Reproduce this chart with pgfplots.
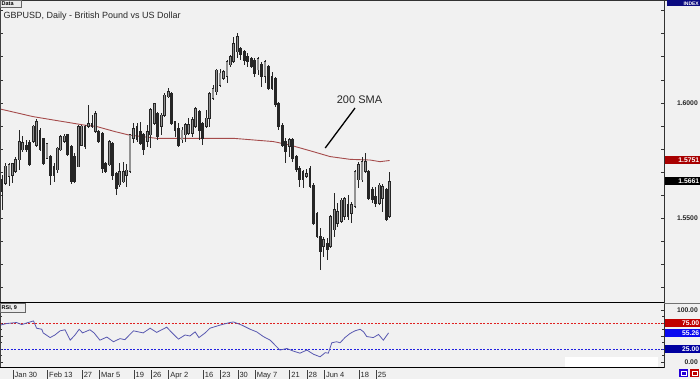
\documentclass[border=0pt]{standalone}
\usepackage{pgfplots}
\pgfplotsset{compat=1.18}
\usepackage{pgfplotstable}
\usepackage{fontspec}
\setmainfont{Liberation Sans}
\definecolor{bg}{HTML}{F1F1F1}
\definecolor{smacol}{HTML}{A54B4B}
\definecolor{rsicol}{HTML}{5858B0}
\definecolor{bodycol}{HTML}{929292}
\definecolor{edgecol}{HTML}{262626}
\definecolor{bred}{HTML}{A80000}
\definecolor{rred}{HTML}{C00000}
\definecolor{bblue}{HTML}{0A0AF0}
\definecolor{dblue}{HTML}{0000A0}
\definecolor{navyc}{HTML}{0A0A80}
\definecolor{redline}{HTML}{E02020}
\definecolor{blueline}{HTML}{2020E0}
\newcommand\tk[1]{{\color{black!75}\rule[-2.5pt]{0.7pt}{10pt}}\hspace{1.3pt}#1}
\tikzset{badge/.style={anchor=west, inner xsep=1pt, inner ysep=0pt, minimum height=8pt, text width=34pt, align=right, font=\fontsize{6.8}{7}\selectfont\bfseries, text=white}}

\pgfplotstableread{
i h bt bb l d
0 1.5688 1.5667 1.5616 1.5537 1
1 1.5739 1.5727 1.5652 1.5645 0
2 1.5739 1.5732 1.5681 1.5641 0
3 1.5739 1.5736 1.5688 1.5652 0
4 1.5768 1.5756 1.5703 1.5696 0
5 1.5883 1.5833 1.5753 1.5710 0
6 1.5857 1.5828 1.5797 1.5789 0
7 1.5840 1.5818 1.5797 1.5789 1
8 1.5840 1.5828 1.5732 1.5727 1
9 1.5905 1.5900 1.5833 1.5825 0
10 1.5929 1.5919 1.5818 1.5808 0
11 1.5890 1.5883 1.5799 1.5794 1
12 1.5847 1.5847 1.5736 1.5732 1
13 1.5825 1.5825 1.5760 1.5756 0
14 1.5775 1.5768 1.5688 1.5645 1
15 1.5739 1.5724 1.5688 1.5659 1
16 1.5808 1.5804 1.5710 1.5696 0
17 1.5862 1.5854 1.5797 1.5794 0
18 1.5866 1.5857 1.5833 1.5825 0
19 1.5866 1.5862 1.5775 1.5771 1
20 1.5818 1.5811 1.5659 1.5649 1
21 1.5782 1.5768 1.5659 1.5652 1
22 1.5905 1.5898 1.5724 1.5722 0
23 1.5905 1.5900 1.5818 1.5814 0
24 1.5905 1.5898 1.5811 1.5799 1
25 1.5991 1.5912 1.5898 1.5890 0
26 1.5948 1.5912 1.5898 1.5890 1
27 1.5967 1.5955 1.5876 1.5869 0
28 1.5883 1.5876 1.5833 1.5825 1
29 1.5876 1.5866 1.5717 1.5696 1
30 1.5746 1.5739 1.5703 1.5696 1
31 1.5840 1.5833 1.5732 1.5727 0
32 1.5833 1.5825 1.5688 1.5667 1
33 1.5703 1.5696 1.5631 1.5602 1
34 1.5739 1.5703 1.5645 1.5638 0
35 1.5746 1.5703 1.5659 1.5652 0
36 1.5736 1.5710 1.5688 1.5638 0
37 1.5866 1.5862 1.5703 1.5698 0
38 1.5912 1.5890 1.5847 1.5825 0
39 1.5912 1.5898 1.5840 1.5833 1
40 1.5919 1.5876 1.5825 1.5818 1
41 1.5869 1.5862 1.5797 1.5775 1
42 1.5905 1.5876 1.5833 1.5811 0
43 1.5977 1.5970 1.5862 1.5804 0
44 1.6002 1.5999 1.5912 1.5905 0
45 1.5963 1.5955 1.5854 1.5840 1
46 1.5955 1.5948 1.5898 1.5862 0
47 1.6042 1.6035 1.5948 1.5941 0
48 1.6064 1.6049 1.6027 1.6020 0
49 1.6049 1.6042 1.5912 1.5905 1
50 1.5919 1.5919 1.5883 1.5854 1
51 1.5912 1.5890 1.5818 1.5808 1
52 1.5898 1.5883 1.5840 1.5825 0
53 1.5912 1.5905 1.5862 1.5833 0
54 1.5934 1.5905 1.5869 1.5862 0
55 1.5941 1.5927 1.5869 1.5854 0
56 1.5984 1.5977 1.5898 1.5891 0
57 1.5970 1.5963 1.5883 1.5840 1
58 1.5919 1.5912 1.5847 1.5818 1
59 1.5970 1.5934 1.5898 1.5891 0
60 1.6049 1.6042 1.5934 1.5895 0
61 1.6078 1.6064 1.6020 1.6013 0
62 1.6146 1.6143 1.6049 1.6035 0
63 1.6146 1.6129 1.6078 1.6071 0
64 1.6143 1.6136 1.6107 1.6100 0
65 1.6186 1.6179 1.6114 1.6085 0
66 1.6208 1.6201 1.6165 1.6158 0
67 1.6287 1.6258 1.6179 1.6172 0
68 1.6302 1.6287 1.6222 1.6193 0
69 1.6244 1.6237 1.6208 1.6186 1
70 1.6229 1.6222 1.6186 1.6165 1
71 1.6215 1.6201 1.6179 1.6158 1
72 1.6201 1.6193 1.6158 1.6150 1
73 1.6193 1.6186 1.6129 1.6114 1
74 1.6201 1.6193 1.6143 1.6121 0
75 1.6179 1.6165 1.6114 1.6071 1
76 1.6186 1.6179 1.6114 1.6085 0
77 1.6165 1.6158 1.6064 1.6056 1
78 1.6136 1.6114 1.6064 1.6056 1
79 1.6114 1.6107 1.5992 1.5984 1
80 1.6006 1.5999 1.5898 1.5883 1
81 1.5912 1.5905 1.5818 1.5811 1
82 1.5847 1.5833 1.5789 1.5739 1
83 1.5847 1.5840 1.5811 1.5768 0
84 1.5847 1.5840 1.5761 1.5746 1
85 1.5775 1.5768 1.5710 1.5703 1
86 1.5725 1.5717 1.5667 1.5638 1
87 1.5710 1.5703 1.5667 1.5631 1
88 1.5713 1.5693 1.5681 1.5674 0
89 1.5725 1.5717 1.5638 1.5631 1
90 1.5653 1.5645 1.5479 1.5472 1
91 1.5530 1.5522 1.5421 1.5414 1
92 1.5458 1.5421 1.5357 1.5277 1
93 1.5421 1.5407 1.5378 1.5335 0
94 1.5414 1.5393 1.5364 1.5320 1
95 1.5515 1.5508 1.5378 1.5371 0
96 1.5609 1.5537 1.5450 1.5421 0
97 1.5566 1.5530 1.5479 1.5465 0
98 1.5587 1.5580 1.5487 1.5479 0
99 1.5595 1.5587 1.5508 1.5494 0
100 1.5602 1.5559 1.5508 1.5494 1
101 1.5573 1.5559 1.5522 1.5479 0
102 1.5710 1.5703 1.5551 1.5544 0
103 1.5746 1.5732 1.5667 1.5631 0
104 1.5768 1.5746 1.5667 1.5660 0
105 1.5782 1.5746 1.5703 1.5696 0
106 1.5710 1.5703 1.5587 1.5580 1
107 1.5638 1.5624 1.5580 1.5566 1
108 1.5638 1.5595 1.5566 1.5551 1
109 1.5653 1.5645 1.5566 1.5559 0
110 1.5650 1.5638 1.5587 1.5530 0
111 1.5631 1.5624 1.5494 1.5487 1
112 1.5703 1.5660 1.5508 1.5501 0
}\candles

\pgfplotstableread{
i v
-0.5 1.5974
9 1.5941
23.5 1.5905
27.4 1.5898
32.7 1.5876
36.5 1.5862
40.8 1.5854
44.7 1.5847
55.8 1.5847
66.9 1.5847
78.4 1.5833
83.2 1.5818
90 1.5789
94.8 1.5768
100.6 1.5756
106.4 1.5753
109.2 1.5746
112 1.5751
}\sma

\pgfplotstableread{
i v
-0.5 71
1.35 74
4.2 76
5.7 72
7.1 75
9.1 79
10 65
11.5 63
11.9 56
13.9 47
15.3 52
16.8 60
18.2 62
19.7 42
21.1 52
22.3 63
23.3 56
25.4 62
26.6 56
28.3 42
30.3 48
32.2 39
34.1 45
35.5 43
38 60
39.4 58
40.8 56
42.8 65
44.7 57
47.6 67
49 57
51 44
52.9 52
54.3 50
55.8 58
56.9 47
58.7 56
60.1 65
63 71
65.9 76
66.9 77
69.3 71
71.7 63
73.6 58
75.5 49
77.5 42
80.3 23
82.3 26
84.2 21
86.1 17
88.1 23
90 15
91.9 10
93.4 18
94.3 17
95.3 37
96.7 39
97.7 37
99.1 47
100.6 55
102 60
103.5 63
104.5 58
105.4 49
107.3 47
108.8 53
110.2 42
111.7 56
}\rsi

\begin{document}
\begin{tikzpicture}[x=1pt,y=1pt]
\fill[bg] (0pt,0pt) rectangle (700pt,379pt);

% main price panel
\begin{axis}[at={(0pt,77pt)}, anchor=south west, scale only axis,
  width=664pt, height=301pt,
  xmin=-0.578, xmax=191.3, ymin=1.5138, ymax=1.6442, clip=false,
  axis line style={draw=none}, xtick=\empty,
  ytick={1.52,1.53,1.54,1.55,1.56,1.57,1.58,1.59,1.60,1.61,1.62,1.63,1.64},
  yticklabels={,,,1.5500,,,,,1.6000,,,,},
  ytick pos=both, yticklabel pos=right, tick align=inside, major tick length=3pt,
  ytick style={black!80, line width=0.8pt},
  yticklabel style={anchor=east, xshift=34pt, inner sep=0pt, font=\fontsize{6.8}{7}\selectfont\bfseries, text=black!85},
]
\addplot[smacol, line width=0.9pt] table[x=i,y=v]{\sma};
\addplot[draw=none, mark=none, error bars/.cd, y dir=both, y explicit, error mark=none,
  error bar style={draw=edgecol, line width=0.8pt}]
  table[x=i, y expr={(\thisrow{h}+\thisrow{l})/2}, y error expr={(\thisrow{h}-\thisrow{l})/2}]{\candles};
\addplot[draw=none, mark=none, error bars/.cd, y dir=both, y explicit, error mark=none,
  error bar style={draw=edgecol, line width=2.8pt}]
  table[x=i, y expr={(\thisrow{bt}+\thisrow{bb})/2}, y error expr={(\thisrow{bt}-\thisrow{bb})/2+0.0002}]{\candles};
\addplot[draw=none, mark=none, error bars/.cd, y dir=both, y explicit, error mark=none,
  error bar style={draw=bodycol, line width=1.2pt}]
  table[x=i, y expr={(\thisrow{bt}+\thisrow{bb})/2}, y error expr={(1-\thisrow{d})*max((\thisrow{bt}-\thisrow{bb})/2-0.0001,0)}]{\candles};
\draw[black, line width=1.3pt] (axis cs:102,1.5978) -- (axis cs:93.4,1.5805);
\node[font=\fontsize{11}{12}\selectfont, text=black!85] at (axis cs:103.3,1.6013) {200 SMA};
\node[badge, fill=bred] at (axis cs:191.3,1.5751) {1.5751};
\node[badge, fill=black] at (axis cs:191.3,1.5661) {1.5661};
\end{axis}

% RSI panel
\begin{axis}[at={(0pt,11pt)}, anchor=south west, scale only axis,
  width=664pt, height=65pt,
  xmin=-0.578, xmax=191.3, ymin=-11.5, ymax=113.5, clip=false,
  axis line style={draw=none},
  ytick={0,25,50,75,100}, yticklabels={0.00,,,,100.00},
  minor ytick={12.5,37.5,62.5,87.5},
  ytick pos=both, yticklabel pos=right, tick align=inside, major tick length=3pt, minor tick length=2pt,
  ytick style={black!80, line width=0.7pt},
  yticklabel style={anchor=east, xshift=34pt, inner sep=0pt, font=\fontsize{6.8}{7}\selectfont\bfseries, text=black!85},
  xtick={3,13,23,28,38,43,48,58,63,68,73,83,88,93,103,108},
  xticklabels={\tk{Jan 30},\tk{Feb 13},\tk{27},\tk{Mar 5},\tk{19},\tk{26},\tk{Apr 2},\tk{16},\tk{23},\tk{30},\tk{May 7},\tk{21},\tk{28},\tk{Jun 4},\tk{18},\tk{25}},
  xtick style={draw=none},
  xticklabel style={anchor=north west, inner sep=0pt, yshift=-2pt, font=\fontsize{7.5}{8}\selectfont, text=black!85},
]
\fill[white] (axis cs:162.7,-11.5) rectangle (axis cs:189.6,9.6);
\addplot[redline, line width=1pt, dash pattern=on 2pt off 1.5pt] coordinates {(-0.578,75) (191.3,75)};
\addplot[blueline, line width=1pt, dash pattern=on 2pt off 1.5pt] coordinates {(-0.578,25) (191.3,25)};
\addplot[rsicol, line width=0.8pt] table[x=i,y=v]{\rsi};
\node[badge, fill=rred] at (axis cs:191.3,75) {75.00};
\node[badge, fill=bblue] at (axis cs:191.3,55.26) {55.26};
\node[badge, fill=dblue] at (axis cs:191.3,25) {25.00};
\end{axis}

% frame
\draw[black!80, line width=1pt] (0,378.5) -- (700,378.5);
\draw[black!75, line width=1pt] (0.5,379) -- (0.5,11);
\draw[black!80, line width=1pt] (664,379) -- (664,11);
\draw[black, line width=1.8pt] (0,76.5) -- (664,76.5);
\draw[black!55, line width=0.6pt] (664,76) -- (700,76);
\draw[black, line width=1pt] (0,11) -- (664,11);

% labels
\draw[black!60, fill=black!8, line width=0.6pt] (0,379) rectangle (21,371.5);
\node[font=\fontsize{5.5}{6}\selectfont\bfseries, anchor=base west, inner sep=0pt] at (1.5,373.3) {Data};
\node[font=\fontsize{9}{10}\selectfont, anchor=base west, inner sep=0pt, text=black!85] at (3.5,360.7) {GBPUSD, Daily - British Pound vs US Dollar};
\draw[black!60, fill=black!8, line width=0.6pt] (0,76) rectangle (25,67);
\node[font=\fontsize{5.5}{6}\selectfont\bfseries, anchor=base west, inner sep=0pt] at (1.5,69) {RSI, 9};
\fill[navyc] (667,379) rectangle (700,372.5);
\node[font=\fontsize{5}{5}\selectfont\bfseries, text=white, anchor=base east, inner sep=0pt] at (699,373.5) {INDEX};
\fill[blue!70!violet] (679,2) rectangle (688,10);
\draw[white, line width=0.6pt] (681,4) rectangle (686,8);
\fill[red!75!black] (690,2) rectangle (699,10);
\draw[white, line width=0.6pt] (692,4) rectangle (697,8);
\pgfresetboundingbox
\path[use as bounding box] (0pt,0pt) rectangle (700pt,379pt);
\end{tikzpicture}
\end{document}
